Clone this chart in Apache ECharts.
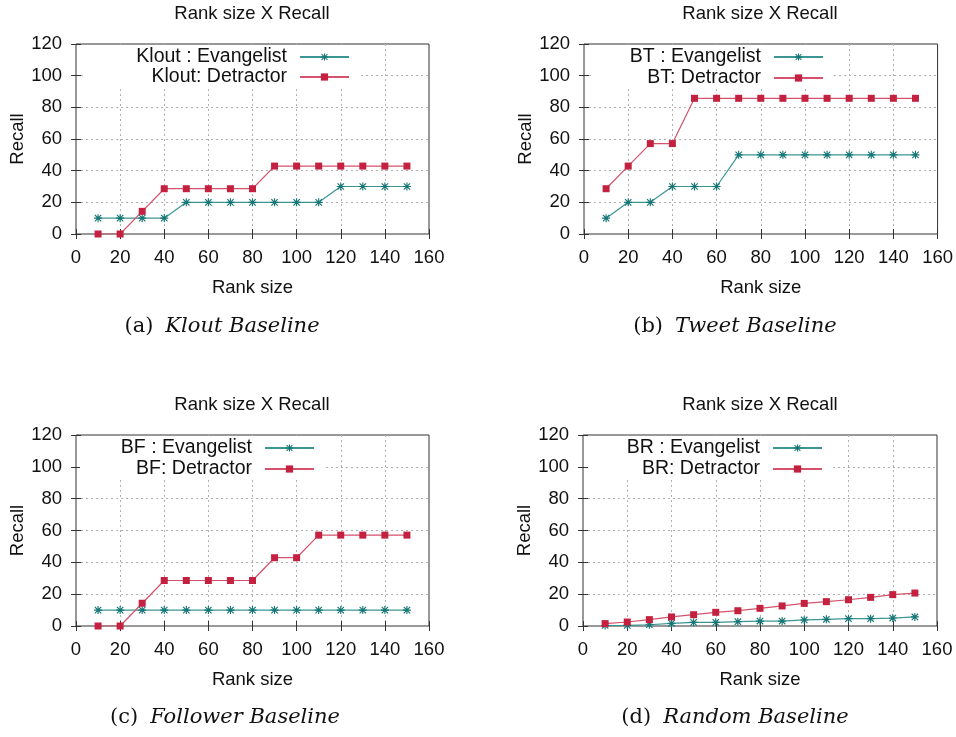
<!DOCTYPE html>
<html>
<head>
<meta charset="utf-8">
<script src="https://cdn.jsdelivr.net/npm/echarts@6/dist/echarts.min.js"></script>
<style>html,body{margin:0;padding:0;background:#fff}#c{width:956px;height:737px}</style>
</head>
<body>
<div id="c"></div>
<script>
// ---- data ----
const rankSizes = [10,20,30,40,50,60,70,80,90,100,110,120,130,140,150];
const xTicks = [0,20,40,60,80,100,120,140,160];
const yTicks = [0,20,40,60,80,100,120];

const kloutEvangelist = [10,10,10,10,20,20,20,20,20,20,20,30,30,30,30];
const kloutDetractor  = [0,0,14.3,28.6,28.6,28.6,28.6,28.6,42.9,42.9,42.9,42.9,42.9,42.9,42.9];
const tweetEvangelist = [10,20,20,30,30,30,50,50,50,50,50,50,50,50,50];
const tweetDetractor  = [28.6,42.9,57.1,57.1,85.7,85.7,85.7,85.7,85.7,85.7,85.7,85.7,85.7,85.7,85.7];
const followerEvangelist = [10,10,10,10,10,10,10,10,10,10,10,10,10,10,10];
const followerDetractor  = [0,0,14.3,28.6,28.6,28.6,28.6,28.6,42.9,42.9,57.1,57.1,57.1,57.1,57.1];
const randomEvangelist = [0.3,0.4,0.8,1.7,2.3,2.3,2.7,3.1,3.1,3.8,4.2,4.6,4.6,5.0,5.7];
const randomDetractor  = [1.5,2.5,4.0,5.7,7.1,8.6,9.6,11.1,12.6,14.2,15.3,16.5,18.0,19.7,20.7];

const panelTitle = 'Rank size X Recall';
const xName = 'Rank size';
const yName = 'Recall';
const evangelistNames = ['Klout : Evangelist','BT : Evangelist','BF : Evangelist','BR : Evangelist'];
const detractorNames  = ['Klout: Detractor','BT: Detractor','BF: Detractor','BR: Detractor'];
const captionLetters = ['(a)','(b)','(c)','(d)'];
const captionTexts = ['Klout Baseline','Tweet Baseline','Follower Baseline','Random Baseline'];
const evangelistData = [kloutEvangelist, tweetEvangelist, followerEvangelist, randomEvangelist];
const detractorData  = [kloutDetractor, tweetDetractor, followerDetractor, randomDetractor];

// ---- layout ----
const SANS = '"Liberation Sans", Arial, sans-serif';
const SERIF = '"DejaVu Serif", serif';
const FS = 18.5;
const LFS = 19.5;
const grids = [
  {left:76, top:44, width:353, height:190},
  {left:584, top:44, width:354, height:190},
  {left:76, top:435, width:353, height:191},
  {left:583, top:435, width:354, height:191}
];
const titlePos = [[252,14],[760,14],[252,405],[760,405]];
const captionPos = [[222,327],[735,327],[225,718],[735,718]];
const legendRight = [606,132,641,133];
const legendRows = [[57,77],[57,78],[448,469],[448,469]];
const keyBox = [[83,45,275,41],[593,45,240,41],[80,436,243,42],[588,436,243,42]];

const TEAL = '#137575', TEAL_L = '#3b9595';
const RED = '#c3213f', RED_L = '#d4526b';
const asterisk = 'path://M0,4.3H10V5.7H0Z M4.3,0H5.7V10H4.3Z M1.5,0.5L9.5,8.5L8.5,9.5L0.5,1.5Z M8.5,0.5L9.5,1.5L1.5,9.5L0.5,8.5Z';

const xAxes = [], yAxes = [], series = [], legends = [], graphics = [];
grids.forEach((g, i) => {
  const tick = {show:true, inside:true, length:5, lineStyle:{color:'#333', width:1}};
  const split = {show:true, showMinLine:false, showMaxLine:false, lineStyle:{color:'#b0b0b0', width:1, type:[2,3]}};
  xAxes.push({type:'value', gridIndex:i, min:xTicks[0], max:xTicks[xTicks.length-1], interval:20,
    axisLine:{show:false}, axisTick:tick, splitLine:split,
    axisLabel:{fontSize:FS, fontFamily:SANS, color:'#111', margin:14},
    name:xName, nameLocation:'middle', nameGap:44, nameTextStyle:{fontSize:FS, fontFamily:SANS, color:'#111'}});
  xAxes.push({type:'value', gridIndex:i, position:'top', min:xTicks[0], max:xTicks[xTicks.length-1], interval:20, z:3,
    axisLine:{show:false}, axisTick:tick, splitLine:{show:false}, axisLabel:{show:false}});
  yAxes.push({type:'value', gridIndex:i, min:yTicks[0], max:yTicks[yTicks.length-1], interval:20,
    axisLine:{show:false}, axisTick:tick, splitLine:split,
    axisLabel:{fontSize:FS, fontFamily:SANS, color:'#111', margin:14},
    name:yName, nameLocation:'middle', nameGap:48, nameRotate:90, nameTextStyle:{fontSize:FS, fontFamily:SANS, color:'#111'}});
  yAxes.push({type:'value', gridIndex:i, position:'right', min:yTicks[0], max:yTicks[yTicks.length-1], interval:20, z:3,
    axisLine:{show:false}, axisTick:tick, splitLine:{show:false}, axisLabel:{show:false}});

  series.push({type:'line', name:evangelistNames[i], xAxisIndex:2*i, yAxisIndex:2*i,
    data:rankSizes.map((x,k)=>[x, evangelistData[i][k]]),
    symbol:asterisk, symbolSize:8, showAllSymbol:true,
    itemStyle:{color:TEAL, borderWidth:0}, lineStyle:{color:TEAL_L, width:1.2},
    emphasis:{disabled:true}});
  series.push({type:'line', name:detractorNames[i], xAxisIndex:2*i, yAxisIndex:2*i,
    data:rankSizes.map((x,k)=>[x, detractorData[i][k]]),
    symbol:'rect', symbolSize:7, showAllSymbol:true,
    itemStyle:{color:RED, borderWidth:0}, lineStyle:{color:RED_L, width:1.2},
    emphasis:{disabled:true}});

  [evangelistNames[i], detractorNames[i]].forEach((nm, r) => {
    legends.push({data:[nm], right:legendRight[i], top:legendRows[i][r]-10, align:'right', orient:'horizontal',
      padding:0, itemWidth:49, itemHeight:9, selectedMode:false, z:6,
      textStyle:{fontSize:LFS, fontFamily:SANS, color:'#111', lineHeight:20, padding:[0,8,0,0]}});
  });

  const b = keyBox[i];
  graphics.push({type:'rect', z:1, shape:{x:b[0], y:b[1], width:b[2], height:b[3]}, style:{fill:'#fff'}, silent:true});
  graphics.push({type:'text', x:titlePos[i][0], y:titlePos[i][1], z:5,
    style:{text:panelTitle, font:FS+'px '+SANS, fill:'#111', align:'center', verticalAlign:'middle'}});
  graphics.push({type:'text', x:captionPos[i][0], y:captionPos[i][1], z:5,
    style:{text:'{n|'+captionLetters[i]+'}{it|'+captionTexts[i]+'}', align:'center', verticalAlign:'middle',
      rich:{n:{fontFamily:SERIF, fontSize:21, fill:'#111', color:'#111', padding:[0,12,0,0]},
            it:{fontFamily:SERIF, fontSize:21, fontStyle:'italic', fill:'#111', color:'#111'}}}});
});

const chart = echarts.init(document.getElementById('c'), null, {renderer:'canvas'});
chart.setOption({
  animation:false,
  backgroundColor:'#fff',
  grid: grids.map(g => Object.assign({show:true, borderColor:'#333', borderWidth:1, backgroundColor:'transparent'}, g)),
  xAxis:xAxes, yAxis:yAxes, legend:legends, series:series, graphic:graphics
});
</script>
</body>
</html>
